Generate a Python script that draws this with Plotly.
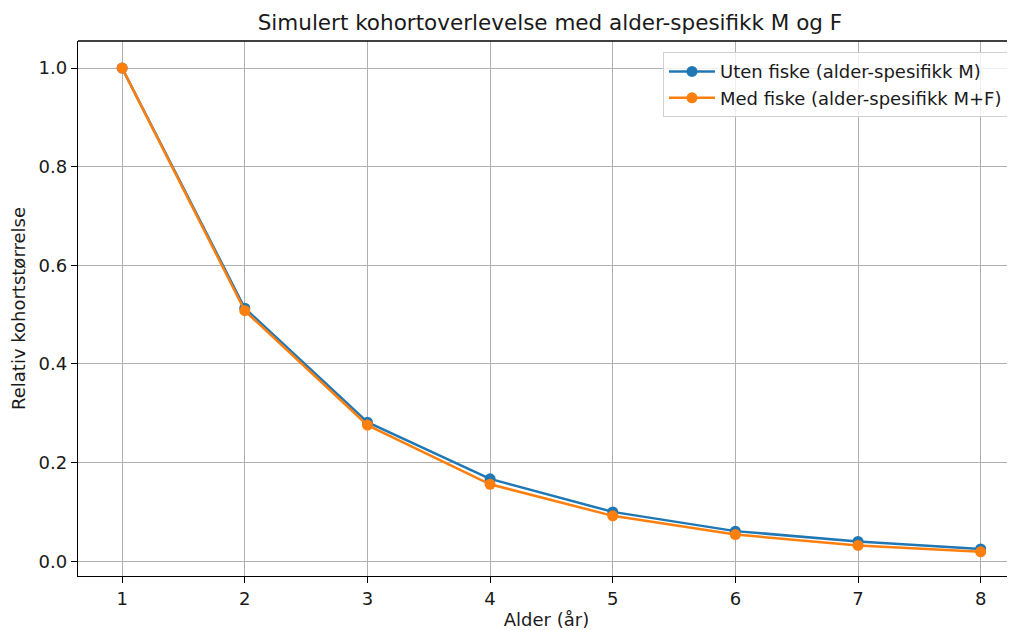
import plotly.graph_objects as go

ages = [1, 2, 3, 4, 5, 6, 7, 8]
uten_fiske = [1.0, 0.513, 0.282, 0.167, 0.100, 0.061, 0.040, 0.025]
med_fiske = [1.0, 0.508, 0.276, 0.156, 0.092, 0.054, 0.032, 0.019]

names = ["Uten fiske (alder-spesifikk M)", "Med fiske (alder-spesifikk M+F)"]
colors = ["#1f77b4", "#ff7f0e"]

font = "DejaVu Sans"

fig = go.Figure()
for y, name, c in zip([uten_fiske, med_fiske], names, colors):
    fig.add_trace(go.Scatter(
        x=ages, y=y, name=name, mode="lines+markers",
        line=dict(color=c, width=2.5),
        marker=dict(color=c, size=11),
    ))

fig.update_layout(
    width=1007, height=622,
    paper_bgcolor="white", plot_bgcolor="white",
    margin=dict(l=70, r=0, t=33, b=54, autoexpand=False),
    font=dict(family=font, size=18, color="#1a1a1a"),
    title=dict(text="Simulert kohortoverlevelse med alder-spesifikk M og F",
               x=0.5037, xref="paper", xanchor="center", y=0.977, yanchor="middle",
               font=dict(size=21.5, color="#1a1a1a")),
    legend=dict(x=0.9925, xanchor="right", y=0.979, yanchor="top",
                bgcolor="rgba(255,255,255,0.8)", bordercolor="#d0d0d0", borderwidth=1,
                font=dict(size=18), tracegroupgap=0, itemwidth=46),
    showlegend=True,
)
fig.update_xaxes(
    range=[0.64, 8.28], tickvals=ages, ticktext=[str(a) for a in ages],
    showgrid=True, gridcolor="#b0b0b0", gridwidth=1.3,
    showline=True, linecolor="black", linewidth=1.3,
    ticks="outside", ticklen=6, tickcolor="black", tickwidth=1.3,
    zeroline=False, automargin=False,
    title=dict(text="Alder (år)", standoff=6, font=dict(size=18)),
)
fig.update_yaxes(
    range=[-0.030, 1.055], tickvals=[0.0, 0.2, 0.4, 0.6, 0.8, 1.0],
    ticktext=["0.0", "0.2", "0.4", "0.6", "0.8", "1.0"],
    showgrid=True, gridcolor="#b0b0b0", gridwidth=1.3,
    showline=True, linecolor="black", linewidth=1.3,
    ticks="outside", ticklen=6, tickcolor="black", tickwidth=1.3,
    zeroline=False, automargin=False,
    title=dict(text="Relativ kohortstørrelse", standoff=12, font=dict(size=18)),
)
fig.add_shape(type="line", xref="paper", yref="paper", x0=0, x1=1, y0=1, y1=1,
              line=dict(color="black", width=1.3))

fig.write_html("out.html")
